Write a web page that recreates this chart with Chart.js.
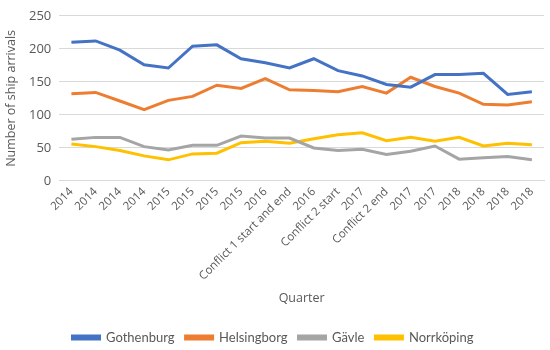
<!DOCTYPE html>
<html>
<head>
 <meta charset="utf-8">
 <title>Ship arrivals per quarter</title>
 <script src="https://cdn.jsdelivr.net/npm/chart.js@4/dist/chart.umd.min.js"></script>
 <style>
	body { margin: 0; background: #fff; }
	.wrap { width: 550px; height: 350px; position: relative; }
 </style>
</head>
<body>
 <div class="wrap"><canvas id="myChart"></canvas></div>

<script>
 // quarter labels along the x axis
 var quarters = ["2014", "2014", "2014", "2014", "2015", "2015", "2015", "2015", "2016",
                 "Conflict 1 start and end", "2016", "Conflict 2 start", "2017", "Conflict 2 end",
                 "2017", "2017", "2018", "2018", "2018", "2018"];

 // ship arrivals per port
 var gothenburg  = [210, 212, 198, 176, 171, 204, 206, 185, 179, 171, 185, 167, 159, 146, 142, 161, 161, 163, 131, 135];
 var helsingborg = [132, 134, 121, 108, 122, 128, 145, 140, 155, 138, 137, 135, 143, 133, 157, 143, 133, 116, 115, 120];
 var gavle       = [63, 66, 66, 52, 47, 54, 54, 68, 65, 65, 50, 46, 48, 40, 45, 53, 33, 35, 37, 32];
 var norrkoping  = [56, 52, 46, 38, 32, 41, 42, 58, 60, 57, 64, 70, 73, 61, 66, 60, 66, 53, 57, 55];

 var yTicks = [0, 50, 100, 150, 200, 250];

 var txt = "#595959";
 var fontName = "'Open Sans', 'Liberation Sans', sans-serif";

 function line(label, data, color)
 {
  return { label: label, data: data, borderColor: color, backgroundColor: color,
           borderWidth: 3, pointRadius: 0, tension: 0, fill: false };
 }

 var ctx = document.getElementById("myChart");
 var myChart = new Chart(ctx, {
  type: 'line',
  data: { labels: quarters,
          datasets: [ line("Gothenburg", gothenburg, "#4472C4"),
                      line("Helsingborg", helsingborg, "#ED7D31"),
                      line("Gävle", gavle, "#A5A5A5"),
                      line("Norrköping", norrkoping, "#FFC000") ] },
  options: {
   responsive: true,
   maintainAspectRatio: false,
   animation: false,
   layout: { padding: { left: 2, right: 6, top: 6, bottom: -4 } },
   plugins: {
    tooltip: { enabled: false },
    legend: { position: 'bottom',
              labels: { color: txt, boxWidth: 27, boxHeight: 3, padding: 11,
                        font: { family: "Lato, 'Open Sans', sans-serif", size: 13 } } }
   },
   scales: {
    x: { offset: true,
         grid: { display: false, drawTicks: false },
         border: { color: "#d9d9d9" },
         ticks: { color: txt, minRotation: 45, maxRotation: 45, autoSkip: false, padding: 4,
                  font: { family: fontName, size: 11.5 } },
         title: { display: true, text: "Quarter", color: txt, padding: { top: 4, bottom: 14 },
                  font: { family: fontName, size: 12.5 } } },
    y: { min: 0, max: 250,
         afterBuildTicks: function(axis) { axis.ticks = yTicks.map(function(v) { return { value: v }; }); },
         grid: { color: "#d9d9d9", drawTicks: false },
         border: { display: false },
         ticks: { color: txt, padding: 8, font: { family: fontName, size: 13 } },
         title: { display: true, text: "Number of ship arrivals", color: txt, padding: 2,
                  font: { family: fontName, size: 12.5 } } }
   }
  }
 });
</script>
</body>
</html>
